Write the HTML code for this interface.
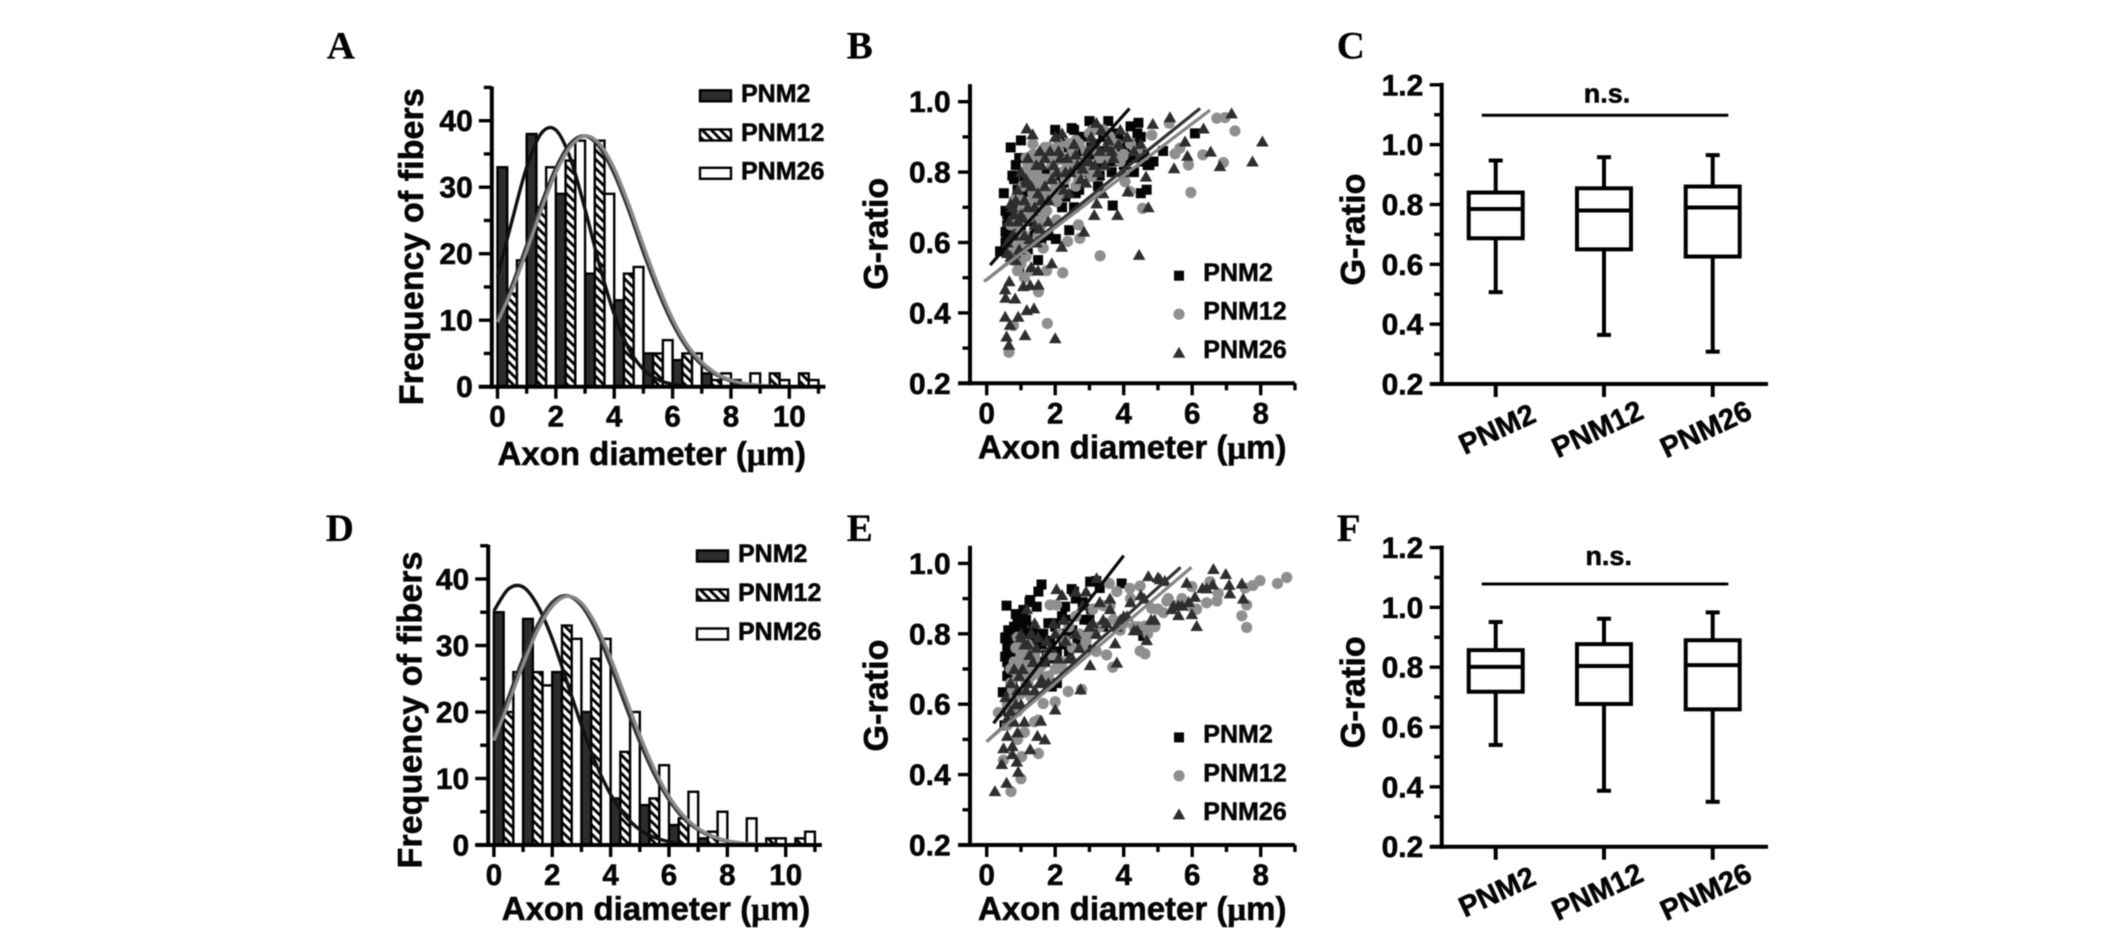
<!DOCTYPE html>
<html lang="en">
<head>
<meta charset="utf-8">
<title>Axon diameter and G-ratio panels</title>
<style>
html,body{margin:0;padding:0;background:#fff;width:2126px;height:944px;overflow:hidden}
svg{display:block;filter:blur(0.45px)}
text{font-family:"Liberation Sans",sans-serif;font-weight:bold;fill:#050505;stroke:#050505;stroke-width:.55px}
.letter{font-family:"Liberation Serif",serif;font-size:39px;fill:#000;stroke-width:.2px}
</style>
</head>
<body>
<svg id="figure" xmlns="http://www.w3.org/2000/svg" width="2126" height="944" viewBox="0 0 2126 944">
<defs>
<pattern id="hatch" patternUnits="userSpaceOnUse" width="6.4" height="6.4" patternTransform="rotate(-45)">
<rect width="6.4" height="6.4" fill="#fff"></rect>
<rect x="0" y="0" width="2.8" height="6.4" fill="#000"></rect>
</pattern>
</defs>
</svg>
<script>
// ---------- Shared labels ----------
const histXTicks = [0, 2, 4, 6, 8, 10];
const histYTicks = [0, 10, 20, 30, 40];
const scatterXTicks = [0, 2, 4, 6, 8];
const ratioTicks = [0.2, 0.4, 0.6, 0.8, 1.0];
const boxTicks = [0.2, 0.4, 0.6, 0.8, 1.0, 1.2];
const seriesNames = ["PNM2", "PNM12", "PNM26"];
const curveGrid = [0, .5, 1, 1.5, 2, 2.5, 3, 3.5, 4, 4.5, 5, 5.5, 6, 6.5, 7, 7.5, 8, 8.5, 9, 9.5];

// ---------- Panel A histogram ----------
const histA2 = [33, 38, 29, 17, 13, 5, 4, 2, 1, 0, 0];
const histA12 = [14, 27, 34, 37, 17, 5, 5, 1, 0, 2, 2];
const histA26 = [19, 33, 37, 29, 18, 7, 5, 2, 2, 1, 1];
const curveA2 = [16.6, 25, 33, 38.1, 38.6, 34.3, 26.7, 18.2, 10.9, 5.7, 2.6, 1.07, .38, .12];
const curveA12 = [10.2, 15.3, 21.3, 27.5, 32.9, 36.6, 37.7, 36, 32, 26.5, 20.2, 14.4, 9.5, 5.8, 3.3, 1.8, .85, .38, .16, .06];
const curveA26 = [9.7, 14.6, 20.4, 26.6, 32.2, 36.1, 37.7, 36.5, 32.8, 27.4, 21.2, 15.3, 10.2, 6.3, 3.7, 2, .98, .46, .2, .08];

// ---------- Panel D histogram ----------
const histD2 = [35, 34, 26, 20, 7, 6, 3, 1, 0, 0, 0];
const histD12 = [20, 26, 33, 28, 14, 7, 4, 2, 0, 1, 1];
const histD26 = [26, 24, 31, 31, 20, 12, 8, 5, 4, 1, 2];
const curveD2 = [35.2, 38.5, 38.8, 36, 31, 24.6, 18, 12.2, 7.6, 4.4, 2.3, 1.14, .52, .22];
const curveD12 = [16.4, 22.2, 28.1, 33.1, 36.5, 37.5, 36, 32.3, 27, 21.1, 15.5, 10.6, 6.8, 4, 2.3, 1.2, .57, .26, .11, .04];
const curveD26 = [15.7, 21.3, 27.1, 32.3, 35.9, 37.4, 36.4, 33.1, 28.1, 22.3, 16.5, 11.4, 7.3, 4.4, 2.5, 1.3, .64, .3, .13, .05];

// ---------- Panel B scatter ----------
const scatB2X = [.70,1.00,.50,.85,.95,1.05,.75,.90,.60,.55, .65,.70,.80,.75,.60,.90,1.10,1.20,1.30,1.40, 1.50,1.60,1.70,1.80,1.90,2.00,2.10,2.20,2.30,2.40, 2.48,2.55,2.60,2.70,2.80,3.00,3.10,3.20,3.30,3.40, 3.55,3.70,3.85,4.00,4.20,4.43,4.30,4.50,4.60,4.75, 4.87,5.15,6.08,3.68,2.02,2.41,2.68,.39,4.67,1.45, 1.35,1.25,1.15,1.55,1.65,2.25,2.55,2.85,3.05,3.35, 3.60,1.05,.95,.85,.65,.75,1.45,1.50,4.30,4.50, .55,.6,.65,.7,.6,.55,.8,.9,1.0,1.1, 1.2,1.3,1.4,1.5,1.6,1.7,1.8,1.9,2.0,2.1, 2.2,2.3,2.4,2.6,2.7,2.9,3.0,3.15,3.25,3.45, 3.65,3.75,3.9,4.05,4.15,4.25,4.4,4.55,4.7,1.2];
const scatB2Y = [.87,.89,.74,.82,.84,.80,.79,.75,.68,.63, .66,.58,.60,.63,.57,.55,.78,.83,.72,.62, .55,.60,.80,.85,.78,.92,.84,.70,.88,.82, .925,.92,.74,.75,.86,.945,.93,.85,.79,.90, .945,.91,.90,.82,.93,.94,.80,.90,.85,.82, .83,.86,.91,.705,.61,.635,.75,.575,.75,.63, .81,.66,.70,.74,.68,.77,.70,.90,.87,.82, .83,.60,.52,.70,.61,.68,.85,.77,.88,.74, .69,.65,.60,.64,.62,.60,.78,.71,.65,.74, .75,.80,.68,.83,.72,.86,.62,.82,.75,.89, .79,.73,.87,.81,.90,.80,.85,.88,.76,.86, .80,.86,.83,.87,.88,.84,.91,.83,.82,.58];
const scatB12X = [6.72,6.96,7.25,6.91,6.31,5.89,5.96,5.50,5.64,5.33, 4.82,4.55,4.18,4.04,3.31,2.68,2.72,2.36,2.22,1.77, .78,.65,1.51,1.75,1.65,2.04,2.04,2.22,2.68,3.07, .8,.9,1.0,1.1,1.2,1.3,1.4,1.5,1.6,1.7, 1.8,1.9,2.0,2.1,2.2,2.3,2.4,2.6,2.8,3.0, 3.2,3.4,3.5,3.7,3.9,4.2,4.4,1.4,1.5,1.3, 1.2,1.25,1.35,1.45,1.55,1.65,1.75,1.85,1.05,.95, .85,.75,1.1,1.15,1.5,1.6,1.9,2.0,2.5,2.75, .7,.75,.8,.9,1,1.05,1.1,1.15,1.2,1.3, 1.35,1.4,1.45,1.5,1.55,1.6,1.7,1.75,1.8,1.9, 2,2.05,2.1,2.2,2.3,2.4,2.5,2.6,2.7,2.9, 3,3.1,3.3,3.6,3.8,4,1.25,1.3,1.35,1.4, 1.5,1.6,1.7,1.8,.9,1,1.1,1.2,1.3,1.6];
const scatB12Y = [.953,.955,.917,.827,.849,.82,.742,.852,.868,.939, .905,.697,.745,.773,.562,.65,.612,.603,.514,.37, .364,.288,.46,.52,.584,.664,.716,.74,.778,.787, .55,.52,.58,.62,.67,.72,.78,.74,.84,.87, .87,.82,.76,.86,.80,.83,.88,.89,.83,.91, .86,.92,.84,.85,.83,.88,.86,.70,.66,.60, .82,.76,.85,.80,.72,.68,.69,.78,.70,.65, .62,.60,.50,.56,.62,.78,.74,.83,.86,.80, .65,.58,.72,.68,.72,.76,.80,.84,.70,.78, .74,.84,.76,.82,.78,.70,.78,.86,.72,.84, .80,.74,.88,.84,.78,.81,.83,.76,.88,.86, .80,.92,.84,.90,.88,.85,.80,.68,.88,.74, .77,.74,.72,.84,.60,.54,.66,.60,.52,.65];
const scatB26X = [7.15,8.05,7.76,6.81,6.54,6.33,5.79,5.86,5.47,5.35, 4.85,4.72,4.65,4.45,4.12,3.82,3.4,3.21,3.14,2.84, 2.19,1.9,2.0,1.12,.65,.58,.68,.54,.92,.83, .55,.54,.66,1.07,1.27,1.51,1.38,1.17,1.17,1.34, .6,.7,.8,.9,1,1.1,1.2,1.3,1.4,1.5, 1.6,1.7,1.8,1.9,2,2.1,2.2,2.3,2.4,2.6, 2.8,3,3.2,3.3,3.5,3.7,3.9,4.1,4.3,4.5, .95,1.05,1.15,1.25,1.45,1.55,.75,.85,3.1,2.9, .6,.65,.7,.75,.8,.85,.9,1,1.1,1.15, 1.2,1.3,1.4,1.45,1.5,1.55,1.6,1.7,1.8,1.85, 1.95,2.05,2.15,2.25,2.35,2.45,2.55,2.65,2.75,2.85, 2.95,3.05,3.15,3.25,3.35,3.45,3.55,3.65,3.85,4];
const scatB26Y = [.967,.887,.83,.817,.858,.924,.887,.846,.811,.956, .937,.7,.787,.565,.745,.678,.74,.711,.678,.631, .588,.541,.328,.337,.309,.333,.366,.389,.389,.441, .443,.467,.49,.476,.479,.48,.413,.408,.924,.907, .57,.71,.68,.75,.80,.72,.84,.53,.65,.52, .72,.84,.66,.78,.90,.86,.91,.80,.74,.85, .81,.83,.94,.86,.87,.84,.92,.90,.86,.88, .58,.67,.77,.61,.60,.86,.62,.55,.88,.77, .60,.66,.56,.70,.62,.72,.66,.68,.62,.78, .70,.76,.70,.82,.74,.64,.82,.76,.72,.86, .82,.80,.84,.75,.84,.80,.88,.82,.78,.83, .86,.90,.82,.80,.92,.82,.89,.86,.88,.80];
const fitB2X = [.1, 4.17];
const fitB2Y = [.536, .981];
const fitB12X = [0, 6.23];
const fitB12Y = [.494, .981];
const fitB26X = [-.08, 6.52];
const fitB26Y = [.489, .976];

// ---------- Panel E scatter ----------
const scatE2X = [1.6,1.51,1.27,.58,.85,1.46,1.07,3.94,3.02,2.48, 2.29,.54,.63,.54,.47,4.57,.6,.65,.7,.75, .9,1.0,1.1,1.2,1.3,1.4,1.5,1.6,1.8,1.9, 2.0,2.1,2.2,2.3,2.4,2.6,2.7,2.8,3.0,3.2, 3.3,3.4,2.55,2.9,1.7,.52,.6,.7,1.9,2.05, .55,.6,.65,.7,.75,.8,.85,.9,.95,1, 1.05,1.15,1.25,1.35,1.45,1.55,1.65,1.75,1.85,1.95, 2.05,2.15,2.25,2.35,2.5,2.65,2.85,3.05,3.15,.6];
const scatE2Y = [.94,.92,.896,.88,.856,.877,.868,.943,.948,.927, .877,.787,.81,.735,.634,.794,.76,.70,.67,.65, .80,.85,.79,.80,.79,.78,.80,.77,.83,.73, .82,.72,.85,.80,.75,.90,.78,.89,.84,.95, .93,.82,.92,.76,.72,.54,.58,.62,.65,.66, .79,.72,.76,.78,.74,.82,.78,.84,.76,.80, .82,.84,.89,.82,.79,.78,.80,.74,.78,.83, .75,.80,.77,.84,.81,.78,.84,.87,.80,.68];
const scatE12X = [8.76,8.49,7.98,7.77,7.54,7.59,7.45,7.59,6.76,6.72, 6.42,6.13,5.26,5.16,4.82,4.62,4.48,4.91,4.62,4.43, 3.68,3.5,4.18,4.48,3.58,2.38,2.77,2,1.65,1.51, 1.02,.49,1,.71,.34,1.51,2.04,1.85,5.99,6.52, .8,.9,1,1.1,1.2,1.3,1.4,1.6,1.8,1.9, 2.1,2.2,2.4,2.6,2.8,3,3.1,3.3,3.6,3.9, .7,.8,1,1.2,1.4,.6,.9,1.1,5.7,5.9, .7,.75,.8,.85,.9,.95,1,1.05,1.1,1.15, 1.2,1.25,1.3,1.4,1.5,1.6,1.7,1.8,2,2.2, 2.3,2.5,2.7,2.9,3.2,3.4,3.7,3.8,4,4.2, 4.3,4.7,5,5.3,5.5,.6,.7,.9,1,1.3];
const scatE12Y = [.96,.943,.951,.937,.93,.818,.851,.882,.915,.893, .888,.87,.893,.86,.872,.743,.751,.82,.822,.82, .705,.74,.929,.936,.943,.636,.642,.607,.602,.46, .451,.441,.388,.352,.576,.555,.882,.882,.934,.948, .70,.79,.74,.71,.77,.70,.73,.68,.68,.74, .80,.70,.82,.85,.76,.80,.87,.82,.88,.81, .58,.62,.63,.66,.55,.60,.50,.52,.90,.88, .70,.64,.72,.76,.68,.72,.78,.68,.74,.66, .72,.76,.68,.74,.69,.71,.66,.74,.70,.72, .78,.76,.80,.78,.75,.88,.84,.92,.83,.90, .82,.80,.87,.90,.88,.54,.66,.58,.68,.62];
const scatE26X = [6.62,6.98,7.45,7.08,7.1,7.49,6.13,5.99,5.6,5.45, 5.84,6.08,6.42,4.72,5.06,4.67,3.8,3.75,3.02,2.74, 2,1.7,1.48,1.58,1.27,.49,.75,.75,.44,.88, .92,.58,.24,3.21,2.04,1.17,.6,.7,.8,.9, 1,1.1,1.2,1.3,1.4,1.5,1.6,1.7,1.8,2, 2.2,2.3,2.5,2.7,2.9,3.1,3.3,3.5,3.6,3.9, 4.1,4.3,4.6,4.9,5.2,1,1.2,1.4,2.6,5.7, .55,.6,.7,.8,.85,.9,.95,1,1.05,1.1, 1.15,1.25,1.35,1.45,1.55,1.65,1.75,1.85,1.95,2.1, 2.25,2.4,2.6,2.8,3,3.2,3.4,3.6,3.8,4, 4.2,4.4,4.5,4.8,5.0,5.4,5.6,5.9,6.3,6.6];
const scatE26Y = [.984,.97,.943,.939,.915,.9,.822,.856,.853,.879, .945,.905,.929,.964,.955,.782,.718,.773,.711,.642, .585,.5,.51,.553,.472,.475,.481,.458,.43,.437, .408,.377,.353,.958,.927,.87,.51,.58,.55,.52, .60,.55,.66,.80,.83,.79,.67,.73,.66,.80, .91,.78,.73,.76,.92,.83,.89,.83,.90,.84, .85,.81,.90,.84,.95,.79,.77,.64,.92,.88, .62,.56,.66,.70,.60,.64,.68,.80,.70,.77, .64,.74,.72,.76,.66,.72,.78,.76,.83,.73, .84,.73,.80,.88,.82,.80,.84,.87,.82,.85, .89,.81,.91,.84,.96,.87,.88,.89,.93,.94];
const fitE2X = [.2, 4.0];
const fitE2Y = [.546, 1.022];
const fitE12X = [0, 5.66];
const fitE12Y = [.494, .989];
const fitE26X = [0, 5.98];
const fitE26Y = [.494, .989];

// ---------- Panels C and F box plots ----------
const boxCWhiskerHigh = [.947, .958, .965];
const boxCQ3 = [.84, .854, .86];
const boxCMedian = [.785, .78, .79];
const boxCQ1 = [.687, .65, .626];
const boxCWhiskerLow = [.507, .364, .308];
const boxFWhiskerHigh = [.951, .962, .983];
const boxFQ3 = [.857, .877, .89];
const boxFMedian = [.801, .804, .807];
const boxFQ1 = [.718, .677, .659];
const boxFWhiskerLow = [.54, .387, .35];

// ---------- Drawing helpers ----------
const NS = "http://www.w3.org/2000/svg";
const root = document.getElementById("figure");
function mk(tag, attrs, parent, txt) {
  const n = document.createElementNS(NS, tag);
  for (const k in attrs) n.setAttribute(k, attrs[k]);
  if (txt !== undefined) n.textContent = txt;
  parent.appendChild(n);
  return n;
}
function line(parent, x1, y1, x2, y2, w, color) {
  return mk("line", {x1: x1, y1: y1, x2: x2, y2: y2, stroke: color || "#000", "stroke-width": w}, parent);
}
function group(parent, name) {
  const g = mk("g", {}, parent);
  
  
  return g;
}
function smoothPath(pts) {
  let d = "M" + pts[0][0] + " " + pts[0][1];
  for (let i = 0; i < pts.length - 1; i++) {
    const p0 = pts[Math.max(i - 1, 0)], p1 = pts[i], p2 = pts[i + 1], p3 = pts[Math.min(i + 2, pts.length - 1)];
    d += " C" + (p1[0] + (p2[0] - p0[0]) / 6) + " " + (p1[1] + (p2[1] - p0[1]) / 6) + " " +
      (p2[0] - (p3[0] - p1[0]) / 6) + " " + (p2[1] - (p3[1] - p1[1]) / 6) + " " + p2[0] + " " + p2[1];
  }
  return d;
}
function panelLetter(parent, letter, x, y) {
  const t = mk("text", {x: x, y: y, class: "letter"}, parent, letter);
  
  
}
function yTitle(parent, label, x, cy, len) {
  const t = mk("text", {transform: "translate(" + x + " " + cy + ") rotate(-90)", "text-anchor": "middle", "font-size": 34, textLength: len, lengthAdjust: "spacingAndGlyphs"}, parent, label);
  
  
}
function xTitle(parent, x, y) {
  const t = mk("text", {x: x, y: y, "font-size": 33}, parent, "Axon diameter (");
  
  
  mk("tspan", {style: 'font-family:"Liberation Serif",serif'}, t, "μ");
  mk("tspan", {}, t, "m)");
}
function legendText(parent, label, x, y) {
  const t = mk("text", {x: x, y: y, "font-size": 25}, parent, label);
  
  
}

// ---------- Histogram panel ----------
function drawHist(cfg) {
  const g = group(root, cfg.name);
  const xs = v => cfg.x0 + v * 29.18;
  const ys = v => cfg.y0 - v * 6.65;
  panelLetter(g, cfg.letter, cfg.letterX, cfg.letterY);
  const fills = ["#2d2d2d", "url(#hatch)", "#fff"];
  const barsG = group(g, "bars");
  cfg.series.forEach((vals, s) => {
    vals.forEach((v, i) => {
      if (v <= 0) return;
      const r = mk("rect", {x: xs(i + s / 3), y: ys(v), width: 29.18 / 3, height: ys(0) - ys(v), fill: fills[s], stroke: "#000", "stroke-width": 2.4}, barsG);
      
      
    });
  });
  const colors = ["#111", "#333", "#8a8a8a"];
  cfg.curves.forEach((vals, s) => {
    const pts = vals.map((v, i) => [xs(curveGrid[i]), ys(v)]);
    const p = mk("path", {d: smoothPath(pts), fill: "none", stroke: colors[s], "stroke-width": 3.4}, g);
    
    
  });
  const axes = group(g, "axes");
  line(axes, cfg.axisX, ys(45) - 1, cfg.axisX, ys(0) + 2, 4);
  line(axes, cfg.axisX - 13, ys(0), xs(11) + 7, ys(0), 4);
  for (let v = 0; v <= 45; v += 5) {
    const major = v % 10 === 0;
    line(axes, cfg.axisX - (major ? 13 : 8), ys(v), cfg.axisX, ys(v), 3.4);
  }
  for (let v = 0; v <= 11; v++) {
    line(axes, xs(v), ys(0), xs(v), ys(0) + (v % 2 === 0 ? 12 : 7), 3.4);
  }
  histYTicks.forEach(v => {
    const t = mk("text", {x: cfg.axisX - 19, y: ys(v) + 10.5, "text-anchor": "end", "font-size": 30}, axes, String(v));
    
    
  });
  histXTicks.forEach(v => {
    const t = mk("text", {x: xs(v), y: cfg.tickY, "text-anchor": "middle", "font-size": 29.5}, axes, String(v));
    
    
  });
  yTitle(g, "Frequency of fibers", cfg.yTitleX, cfg.yTitleY, 317);
  xTitle(g, cfg.xTitleX, cfg.xTitleY);
  const leg = group(g, "legend");
  seriesNames.forEach((n, s) => {
    const r = mk("rect", {x: cfg.legX, y: cfg.legY[s] - 5.5, width: 31, height: 11, fill: fills[s], stroke: "#000", "stroke-width": 2.4}, leg);
    
    
    legendText(leg, n, cfg.legX + 41, cfg.legY[s] + 6);
  });
}

// ---------- Scatter panel ----------
function marker(parent, kind, x, y) {
  if (kind === 0) return mk("rect", {x: x - 5, y: y - 5, width: 10, height: 10, fill: "#050505"}, parent);
  if (kind === 1) return mk("circle", {cx: x, cy: y, r: 5.6, fill: "#8f8f8f"}, parent);
  return mk("polygon", {points: (x - 6.3) + "," + (y + 5) + " " + (x + 6.3) + "," + (y + 5) + " " + x + "," + (y - 6), fill: "#2e2e2e"}, parent);
}
function drawScatter(cfg) {
  const g = group(root, cfg.name);
  const xs = v => 986.7 + v * 34.25;
  const ys = v => cfg.y0 - (v - 0.2) * 352;
  panelLetter(g, cfg.letter, 846.7, cfg.letterY);
  const ptsG = group(g, "points");
  cfg.pts.forEach((pair, s) => {
    pair[0].forEach((vx, i) => {
      const m = marker(ptsG, s, xs(vx), ys(pair[1][i]));
      
      
    });
  });
  const colors = ["#0a0a0a", "#333", "#858585"];
  cfg.fits.forEach((pair, s) => {
    const l = line(g, xs(pair[0][0]), ys(pair[1][0]), xs(pair[0][1]), ys(pair[1][1]), 3.2, colors[s]);
    
    
  });
  const axes = group(g, "axes");
  line(axes, 970, ys(1.05), 970, ys(0.2) + 2, 4);
  line(axes, 958, ys(0.2), 1295, ys(0.2), 4);
  for (let i = 2; i <= 10; i++) {
    line(axes, 970 - (i % 2 === 0 ? 12 : 7.5), ys(i / 10), 970, ys(i / 10), 3.4);
  }
  for (let v = 0; v <= 9; v++) {
    line(axes, xs(v), ys(0.2), xs(v), ys(0.2) + (v % 2 === 0 ? 12 : 7), 3.4);
  }
  ratioTicks.forEach(v => {
    const t = mk("text", {x: 950.7, y: ys(v) + 10.5, "text-anchor": "end", "font-size": 30}, axes, v.toFixed(1));
    
    
  });
  scatterXTicks.forEach(v => {
    const t = mk("text", {x: xs(v), y: cfg.y0 + 40, "text-anchor": "middle", "font-size": 29.5}, axes, String(v));
    
    
  });
  yTitle(g, "G-ratio", 887.3, cfg.y0 - 149.5, 112);
  xTitle(g, 978, cfg.y0 + 75);
  const leg = group(g, "legend");
  seriesNames.forEach((n, s) => {
    const m = marker(leg, s, 1179, cfg.y0 - 107.6 + s * 38.5);
    
    
    legendText(leg, n, 1203.3, cfg.y0 - 102.3 + s * 38.6);
  });
}

// ---------- Box plot panel ----------
function drawBox(cfg) {
  const g = group(root, cfg.name);
  const cats = [1495.7, 1604, 1712.7];
  const ys = v => cfg.y0 - (v - 0.2) * 299.2;
  panelLetter(g, cfg.letter, 1336.7, cfg.letterY);
  const axes = group(g, "axes");
  line(axes, 1441.7, ys(1.2) - 2, 1441.7, ys(0.2) + 2, 4);
  line(axes, 1430, ys(0.2), 1768, ys(0.2), 4);
  for (let i = 2; i <= 12; i++) {
    line(axes, 1441.7 - (i % 2 === 0 ? 12 : 7.5), ys(i / 10), 1441.7, ys(i / 10), 3.4);
  }
  cats.forEach(x => line(axes, x, ys(0.2), x, ys(0.2) + 13, 4));
  boxTicks.forEach(v => {
    const t = mk("text", {x: 1423.3, y: ys(v) + 10.5, "text-anchor": "end", "font-size": 30}, axes, v.toFixed(1));
    
    
  });
  seriesNames.forEach((n, i) => {
    const cx = [1497, 1597.3, 1705.7][i];
    const t = mk("text", {transform: "translate(" + cx + " " + (cfg.y0 + 45) + ") rotate(-25)", y: 10, "text-anchor": "middle", "font-size": 29}, axes, n);
    
    
  });
  yTitle(g, "G-ratio", 1364.3, cfg.y0 - 154.5, 112);
  cats.forEach((x, i) => {
    const b = group(g, 'box-' + seriesNames[i].toLowerCase());
    line(b, x, ys(cfg.hi[i]), x, ys(cfg.q3[i]), 4);
    line(b, x, ys(cfg.q1[i]), x, ys(cfg.lo[i]), 4);
    line(b, x - 7, ys(cfg.hi[i]), x + 7, ys(cfg.hi[i]), 4);
    line(b, x - 7, ys(cfg.lo[i]), x + 7, ys(cfg.lo[i]), 4);
    mk("rect", {x: x - 27, y: ys(cfg.q3[i]), width: 54, height: ys(cfg.q1[i]) - ys(cfg.q3[i]), fill: "#fff", stroke: "#000", "stroke-width": 4}, b);
    line(b, x - 27, ys(cfg.med[i]), x + 27, ys(cfg.med[i]), 4);
  });
  const br = line(g, 1481.7, cfg.nsLineY, 1728.3, cfg.nsLineY, 3);
  
  
  const ns = mk("text", {x: cfg.nsX, y: cfg.nsY, "text-anchor": "middle", "font-size": 27}, g, "n.s.");
  
  
}

// ---------- Compose ----------
drawHist({name: "panel-a", letter: "A", letterX: 326.8, letterY: 58.3, x0: 497.5, y0: 386.7, axisX: 491.8, tickY: 426.7,
  series: [histA2, histA12, histA26], curves: [curveA2, curveA12, curveA26],
  yTitleX: 423, yTitleY: 246.7, xTitleX: 497.5, xTitleY: 465, legX: 700, legY: [95.8, 135, 173.3]});
drawScatter({name: "panel-b", letter: "B", letterY: 58.3, y0: 383.3,
  pts: [[scatB2X, scatB2Y], [scatB12X, scatB12Y], [scatB26X, scatB26Y]],
  fits: [[fitB2X, fitB2Y], [fitB12X, fitB12Y], [fitB26X, fitB26Y]]});
drawBox({name: "panel-c", letter: "C", letterY: 58.3, y0: 384,
  hi: boxCWhiskerHigh, q3: boxCQ3, med: boxCMedian, q1: boxCQ1, lo: boxCWhiskerLow,
  nsLineY: 115.3, nsX: 1607, nsY: 102.7});
drawHist({name: "panel-d", letter: "D", letterX: 325.7, letterY: 541, x0: 493.9, y0: 845, axisX: 488.2, tickY: 885,
  series: [histD2, histD12, histD26], curves: [curveD2, curveD12, curveD26],
  yTitleX: 421.4, yTitleY: 710, xTitleX: 501.8, xTitleY: 920, legX: 697, legY: [556, 595, 634]});
drawScatter({name: "panel-e", letter: "E", letterY: 541, y0: 845,
  pts: [[scatE2X, scatE2Y], [scatE12X, scatE12Y], [scatE26X, scatE26Y]],
  fits: [[fitE2X, fitE2Y], [fitE12X, fitE12Y], [fitE26X, fitE26Y]]});
drawBox({name: "panel-f", letter: "F", letterY: 541, y0: 846.7,
  hi: boxFWhiskerHigh, q3: boxFQ3, med: boxFMedian, q1: boxFQ1, lo: boxFWhiskerLow,
  nsLineY: 584, nsX: 1608.7, nsY: 565});
</script>
</body>
</html>
